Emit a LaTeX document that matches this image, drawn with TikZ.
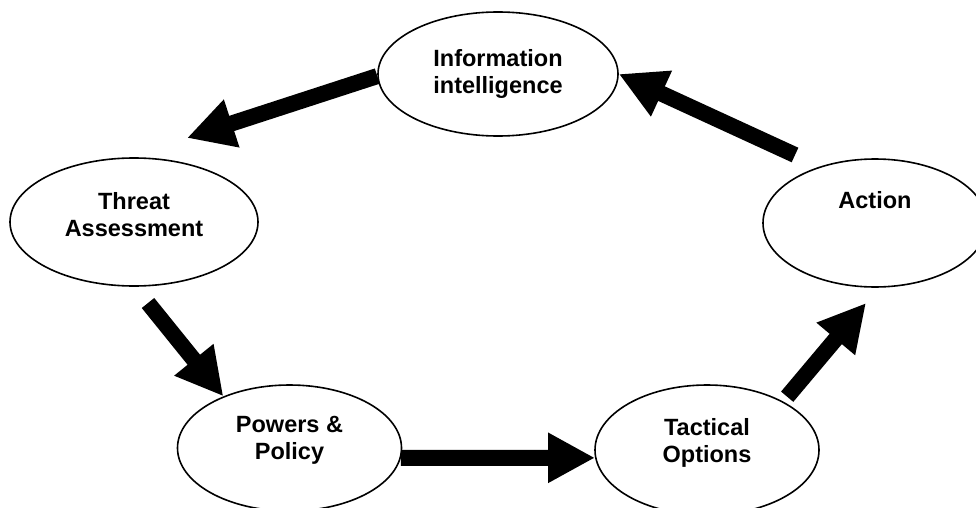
\documentclass[tikz,border=0pt]{standalone}
\usepackage{fontspec}
\setmainfont{Liberation Sans}
\usetikzlibrary{shapes.geometric,arrows.meta}

\begin{document}
\begin{tikzpicture}[x=1pt,y=1pt,
		bubble/.style={draw,ellipse,line width=1.6pt,inner sep=0pt,align=center,
			minimum width=224pt,minimum height=126pt,text depth=20pt,
			font=\fontsize{23.5}{27}\selectfont\bfseries},
		bigarrow/.style={line width=16pt,-{Triangle[length=47pt,width=47pt]}}]
		\useasboundingbox (0,0) rectangle (976,507);

		% Ellipses round the cycle
		\node[bubble,minimum width=240pt,minimum height=124pt,text depth=5pt] (info) at (498,433)
			{Information\\intelligence};
		\node[bubble,minimum width=248pt,minimum height=128pt,text depth=16pt] (threat) at (134,285)
			{Threat\\Assessment};
		\node[bubble] (powers) at (289.5,59) {Powers \&\\Policy};
		\node[bubble,minimum height=130pt] (tactical) at (707,57) {Tactical\\Options};
		\node[bubble,minimum height=128pt] (action) at (875,284) {Action\\~};

		% Free arrow ends
		\coordinate (threattip) at (187,369);
		\coordinate (threattail) at (148,204);
		\coordinate (actiontip) at (866,204);
		\coordinate (actiontail) at (795,352);

		% Block arrows
		\draw[bigarrow] (info.181) -- (threattip);
		\draw[bigarrow] (threattail) -- (powers.142);
		\draw[bigarrow] (powers.-5) -- (tactical.184);
		\draw[bigarrow] ([yshift=7pt]tactical.30) -- (actiontip);
		\draw[bigarrow] (actiontail) -- (info.east);
	\end{tikzpicture}
\end{document}
